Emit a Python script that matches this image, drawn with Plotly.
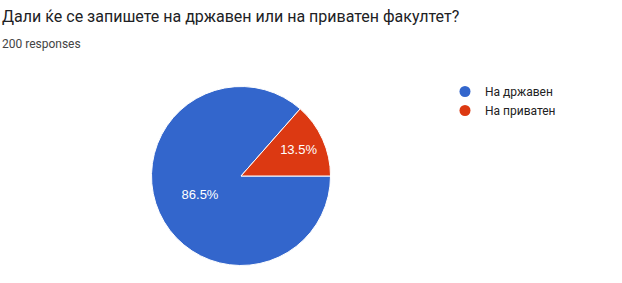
import plotly.graph_objects as go

title_text = "Дали ќе се запишете на државен или на приватен факултет?"
subtitle_text = "200 responses"
labels = ["На државен", "На приватен"]
values = [173, 27]
colors = ["#3366cc", "#dc3912"]

W, H = 622, 283
fig = go.Figure()
fig.add_trace(go.Pie(
    labels=labels, values=values, sort=False, direction="clockwise", rotation=90,
    marker=dict(colors=colors, line=dict(color="white", width=1)),
    textinfo="percent", texttemplate="%{percent:.1%}", textposition="inside",
    insidetextfont=dict(color="white", size=13, family="Arial, Liberation Sans"),
    insidetextorientation="horizontal",
    showlegend=False, hoverinfo="label+percent",
    domain=dict(x=[151.5 / W, 330.5 / W], y=[1 - 265.5 / H, 1 - 86.5 / H]),
))
for lab, col in zip(labels, colors):
    fig.add_trace(go.Scatter(x=[None], y=[None], mode="markers", name=lab,
                             marker=dict(color=col, size=11, symbol="circle")))

fig.update_layout(
    width=W, height=H, margin=dict(l=0, r=0, t=0, b=0),
    paper_bgcolor="white", plot_bgcolor="white",
    xaxis=dict(visible=False), yaxis=dict(visible=False),
    legend=dict(x=445 / W, y=1 - 77 / H, xanchor="left", yanchor="top",
                font=dict(size=12, color="#222222", family="Roboto"),
                bgcolor="rgba(0,0,0,0)", itemwidth=30, tracegroupgap=0),
    annotations=[
        dict(text=title_text, x=0, y=1 - 17 / H, xref="paper", yref="paper",
             xanchor="left", yanchor="middle", showarrow=False,
             font=dict(size=16, color="#202124", family="Roboto")),
        dict(text=subtitle_text, x=0, y=1 - 44 / H, xref="paper", yref="paper",
             xanchor="left", yanchor="middle", showarrow=False,
             font=dict(size=12, color="#444444", family="Roboto")),
    ],
)
fig.write_html("out.html")
